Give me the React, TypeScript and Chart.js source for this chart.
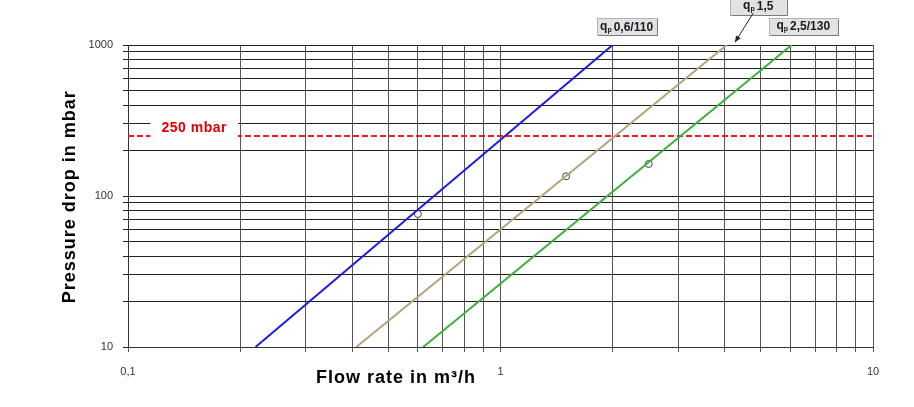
import React, { useEffect, useRef } from 'react';
import { Chart, registerables } from 'chart.js';
Chart.register(...registerables);

// Axis ticks (log grid)
const xTicks = [0.1, 0.2, 0.3, 0.4, 0.5, 0.6, 0.7, 0.8, 0.9, 1, 2, 3, 4, 5, 6, 7, 8, 9, 10];
const yTicks = [10, 20, 30, 40, 50, 60, 70, 80, 90, 100, 200, 300, 400, 500, 600, 700, 800, 900, 1000];
const xTickLabels: [number, string][] = [[0.1, '0,1'], [1, '1'], [10, '10']];
const yTickLabels: [number, string][] = [[10, '10'], [100, '100'], [1000, '1000']];

// Series (flow rate m³/h vs pressure drop mbar)
const blueX = [0.22, 2.0];
const blueY = [10, 1000];
const tanX = [0.41, 4.05];
const tanY = [10, 1000];
const greenX = [0.62, 6.05];
const greenY = [10, 1000];
const markerX = [0.6, 1.5, 2.5];
const markerY = [76, 135, 163];
const limitValue = 250;
const limitText = '250 mbar';

// Series labels
const labelSubs = ['p', 'p', 'p'];
const labelTexts = ['0,6/110', '1,5', '2,5/130'];
const labelAnchorX = [2.18, 4.92, 6.5];
const labelAnchorY = [1316, 1800, 1330];
const labelBoxW = [60, 57, 69];
const arrowFrom = { x: 4.77, y: 1629 };
const arrowTo = { x: 4.26, y: 1042 };

const xTitle = 'Flow rate in m³/h';
const yTitle = 'Pressure drop in mbar';

const toPts = (xs: number[], ys: number[]) => xs.map((x, i) => ({ x, y: ys[i] }));
const findLabel = (arr: [number, string][], v: number) => {
  const f = arr.find(([k]) => Math.abs(k - v) / k < 1e-6);
  return f ? f[1] : '';
};

const FONT = '"Liberation Sans", Arial, sans-serif';

const annotations = {
  id: 'annotations',
  afterDatasetsDraw(chart: any) {
    const { ctx, chartArea, scales } = chart;
    const xs = scales.x, ys = scales.y;
    ctx.save();
    // 250 mbar label
    ctx.font = `bold 14px ${FONT}`;
    (ctx as any).letterSpacing = '0.5px';
    const tx = xs.getPixelForValue(0.1506);
    const lineY = ys.getPixelForValue(limitValue);
    const ty = lineY - 9;
    const tw = ctx.measureText(limitText).width;
    ctx.fillStyle = '#ffffff';
    ctx.fillRect(tx - tw / 2 - 11, ty - 9, tw + 22, lineY - ty + 13);
    ctx.fillStyle = '#e00000';
    ctx.textAlign = 'center';
    ctx.textBaseline = 'middle';
    ctx.fillText(limitText, tx, ty + 1);
    (ctx as any).letterSpacing = '0px';

    // series label boxes
    for (let i = 0; i < labelTexts.length; i++) {
      const cx = xs.getPixelForValue(labelAnchorX[i]);
      const cy = ys.getPixelForValue(labelAnchorY[i]);
      ctx.font = `bold 12px ${FONT}`;
      const wq = ctx.measureText('q').width;
      const wt = ctx.measureText(labelTexts[i]).width;
      ctx.font = `bold 7px ${FONT}`;
      const ws = ctx.measureText(labelSubs[i]).width;
      const total = wq + ws + 2 + wt;
      const bw = labelBoxW[i];
      const bh = 17;
      const bx = Math.round(cx - bw / 2) + 0.5;
      const by = Math.round(cy - bh / 2) + 0.5;
      ctx.fillStyle = '#e2e2e2';
      ctx.fillRect(bx, by, bw, bh);
      ctx.strokeStyle = '#b4b4b4';
      ctx.lineWidth = 1;
      ctx.strokeRect(bx, by, bw, bh);
      ctx.strokeStyle = '#7a7a7a';
      ctx.beginPath();
      ctx.moveTo(bx + bw, by + 1);
      ctx.lineTo(bx + bw, by + bh);
      ctx.lineTo(bx + 1, by + bh);
      ctx.stroke();
      let px = cx - total / 2;
      ctx.fillStyle = '#1a1a24';
      ctx.textAlign = 'left';
      ctx.textBaseline = 'alphabetic';
      ctx.font = `bold 12px ${FONT}`;
      ctx.fillText('q', px, cy + 3);
      px += wq;
      ctx.font = `bold 7px ${FONT}`;
      ctx.fillText(labelSubs[i], px, cy + 5);
      px += ws + 2;
      ctx.font = `bold 12px ${FONT}`;
      ctx.fillText(labelTexts[i], px, cy + 4);
    }

    // arrow
    const ax1 = xs.getPixelForValue(arrowFrom.x), ay1 = ys.getPixelForValue(arrowFrom.y);
    const ax2 = xs.getPixelForValue(arrowTo.x), ay2 = ys.getPixelForValue(arrowTo.y);
    ctx.strokeStyle = '#222';
    ctx.fillStyle = '#222';
    ctx.lineWidth = 1;
    ctx.beginPath();
    ctx.moveTo(ax1, ay1);
    ctx.lineTo(ax2, ay2);
    ctx.stroke();
    const ang = Math.atan2(ay2 - ay1, ax2 - ax1);
    ctx.beginPath();
    ctx.moveTo(ax2, ay2);
    ctx.lineTo(ax2 - 7 * Math.cos(ang - 0.4), ay2 - 7 * Math.sin(ang - 0.4));
    ctx.lineTo(ax2 - 7 * Math.cos(ang + 0.4), ay2 - 7 * Math.sin(ang + 0.4));
    ctx.closePath();
    ctx.fill();

    // axis titles
    ctx.fillStyle = '#000';
    ctx.font = `bold 18px ${FONT}`;
    (ctx as any).letterSpacing = '1px';
    ctx.textAlign = 'center';
    ctx.textBaseline = 'alphabetic';
    ctx.fillText(xTitle, xs.getPixelForValue(0.524), chartArea.bottom + 36);
    ctx.save();
    ctx.translate(chartArea.left - 53, ys.getPixelForValue(99));
    ctx.rotate(-Math.PI / 2);
    ctx.fillText(yTitle, 0, 0);
    ctx.restore();
    (ctx as any).letterSpacing = '0px';
    ctx.restore();
  },
};

export default function App() {
  const ref = useRef<HTMLCanvasElement>(null);
  useEffect(() => {
    const chart = new Chart(ref.current as HTMLCanvasElement, {
      type: 'scatter',
      data: {
        datasets: [
          { data: toPts(blueX, blueY), showLine: true, borderColor: '#1c1ce6', borderWidth: 2, borderDash: [], pointRadius: 0 },
          { data: toPts(tanX, tanY), showLine: true, borderColor: '#b3a47e', borderWidth: 2, borderDash: [], pointRadius: 0 },
          { data: toPts(greenX, greenY), showLine: true, borderColor: '#3cb03c', borderWidth: 2, borderDash: [], pointRadius: 0 },
          { data: toPts([0.1, 10], [limitValue, limitValue]), showLine: true, borderColor: '#ee1c1c', borderWidth: 2, borderDash: [6, 3], pointRadius: 0 },
          { data: toPts(markerX, markerY), showLine: false, pointRadius: 3.5, pointBackgroundColor: '#ffffff', pointBorderColor: '#404040', pointBorderWidth: 1 },
        ],
      },
      options: {
        responsive: false,
        animation: false,
        devicePixelRatio: 1,
        layout: { padding: { top: 45, right: 41, left: 0, bottom: 0 } },
        plugins: { legend: { display: false }, tooltip: { enabled: false } },
        scales: {
          x: {
            type: 'logarithmic',
            min: 0.1,
            max: 10,
            afterBuildTicks: (s: any) => { s.ticks = xTicks.map((v) => ({ value: v })); },
            afterFit: (s: any) => { s.height = 60; },
            grid: { color: '#555', lineWidth: 1, tickLength: 5 },
            border: { color: '#333', width: 1 },
            ticks: {
              autoSkip: false,
              maxRotation: 0,
              padding: 13,
              color: '#333',
              font: { family: FONT, size: 11 },
              callback: (v: any) => findLabel(xTickLabels, Number(v)),
            },
          },
          y: {
            type: 'logarithmic',
            min: 10,
            max: 1000,
            afterBuildTicks: (s: any) => { s.ticks = yTicks.map((v) => ({ value: v })); },
            afterFit: (s: any) => { s.width = 128; },
            grid: { color: '#222', lineWidth: 1, tickLength: 5 },
            border: { color: '#333', width: 1 },
            ticks: {
              autoSkip: false,
              padding: 10,
              color: '#333',
              font: { family: FONT, size: 11 },
              callback: (v: any) => findLabel(yTickLabels, Number(v)),
            },
          },
        },
      },
      plugins: [annotations],
    } as any);
    return () => chart.destroy();
  }, []);
  return (
    <div style={{ position: 'absolute', left: 0, top: 0, width: 914, height: 407, background: '#fff' }}>
      <canvas ref={ref} width={914} height={407} style={{ width: 914, height: 407, display: 'block' }} />
    </div>
  );
}
